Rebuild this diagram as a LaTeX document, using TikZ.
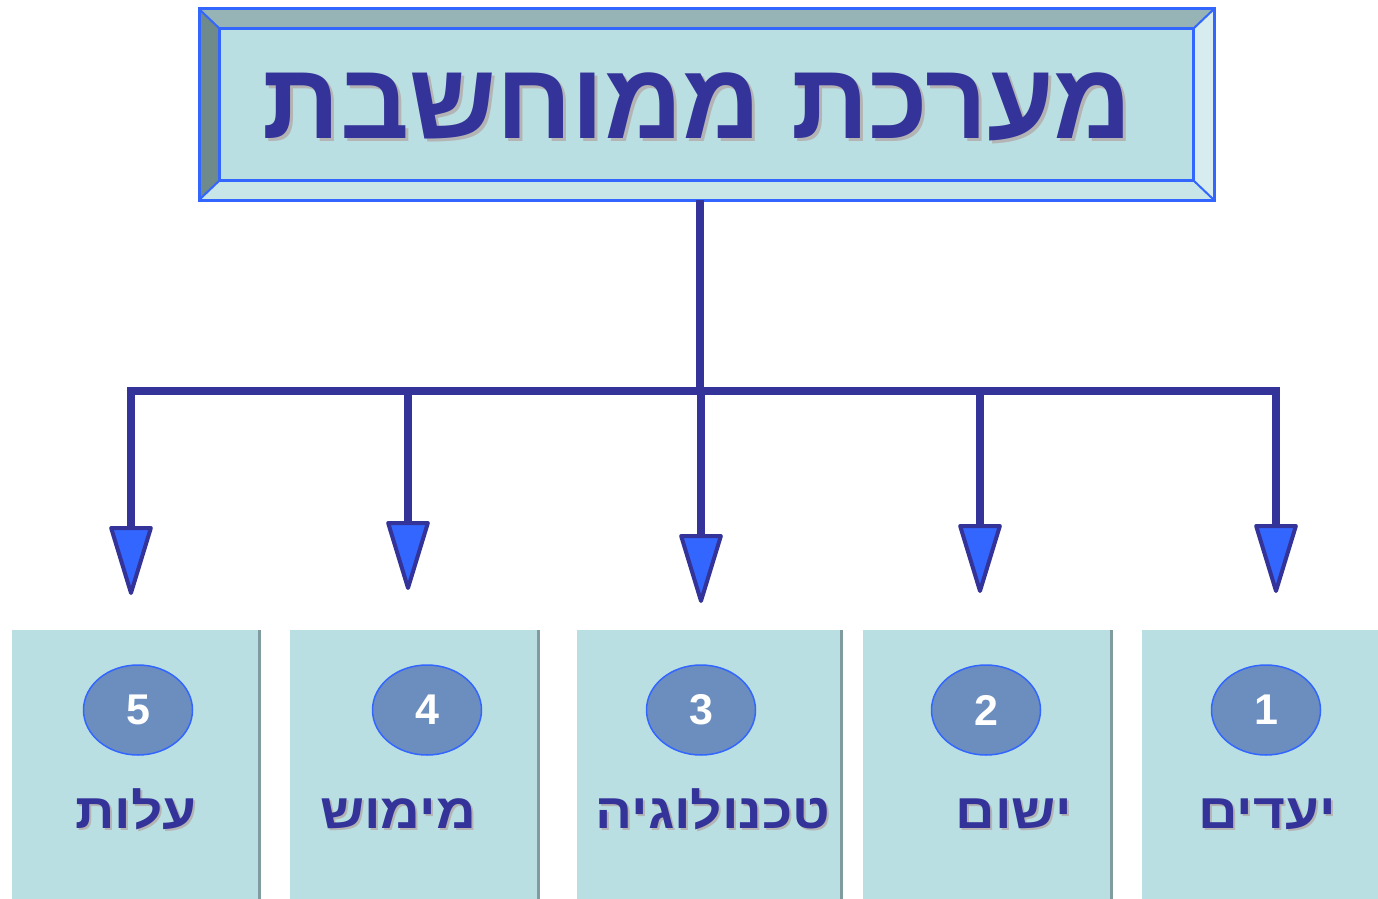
\documentclass[tikz,border=0pt]{standalone}
\usepackage{fontspec}
\usetikzlibrary{arrows.meta,shapes.geometric,shadows}
\TeXXeTstate=1
\newfontfamily\hebfont[Script=Hebrew]{Liberation Sans}
\newfontfamily\hebwide[Script=Hebrew, FakeStretch=1.12]{Liberation Sans}
\newfontfamily\numfont{Liberation Sans}

\definecolor{navy}{HTML}{333399}
\definecolor{edgeblue}{HTML}{3366FF}
\definecolor{face}{HTML}{B9DFE2}
\definecolor{bevtop}{HTML}{96B4B6}
\definecolor{bevleft}{HTML}{6E8A8A}
\definecolor{bevright}{HTML}{D6ECEE}
\definecolor{bevbottom}{HTML}{C8E6E8}
\definecolor{badgefill}{HTML}{6C8EBF}
\definecolor{boxshade}{HTML}{809C9E}
\definecolor{textshade}{HTML}{B4B4B4}

\tikzset{
    bus/.style={draw=navy, line width=8pt},
    drop/.style={bus, -{Triangle[width=44pt, length=74pt, line width=4pt, fill=edgeblue, round]}},
    item/.style={fill=face, minimum height=269pt, inner sep=0pt,
        general shadow={fill=boxshade, shadow xshift=3pt, shadow yshift=0pt}},
    badge/.style={ellipse, draw=edgeblue, line width=1.5pt, fill=badgefill, text=white,
        minimum width=109pt, minimum height=90pt, inner sep=0pt,
        font=\numfont\bfseries\fontsize{43}{43}\selectfont},
    caption/.style={anchor=base, text=navy, inner sep=0pt,
        font=\hebwide\bfseries\fontsize{49}{49}\selectfont},
    headline/.style={anchor=base, text=navy, inner sep=0pt,
        font=\hebfont\bfseries\fontsize{108}{108}\selectfont}
}

\begin{document}
\begin{tikzpicture}[x=1pt, y=-1pt]
    \useasboundingbox (0,0) rectangle (1378,899);

    % Title frame
    \coordinate (fnw) at (199,9);
    \coordinate (fse) at (1214,200);
    \node[fill=face, minimum width=973pt, minimum height=151pt, inner sep=0pt] (title) at (706.5,104.5) {};
    \fill[bevtop] (fnw) -- (fnw -| fse) -- (title.north east) -- (title.north west) -- cycle;
    \fill[bevleft] (fnw) -- (title.north west) -- (title.south west) -- (fse -| fnw) -- cycle;
    \fill[bevright] (fnw -| fse) -- (fse) -- (title.south east) -- (title.north east) -- cycle;
    \fill[bevbottom] (fse -| fnw) -- (title.south west) -- (title.south east) -- (fse) -- cycle;
    \draw[edgeblue, line width=3pt] (fnw) rectangle (fse);
    \draw[edgeblue, line width=3pt] (title.north west) rectangle (title.south east);
    \draw[edgeblue, line width=2pt] (fnw) -- (title.north west)
        (fnw -| fse) -- (title.north east)
        (fse) -- (title.south east)
        (fse -| fnw) -- (title.south west);
    \node[headline, text=textshade] (titleshade) at (700,141) {\beginR מערכת ממוחשבת\endR};
    \node[headline] (titletext) at (697,138) {\beginR מערכת ממוחשבת\endR};

    % Bus
    \coordinate (hub) at (700,391);
    \draw[bus, shorten <=20pt] (title.south -| hub) -- (hub);

    % Items
    \foreach \n/\bx/\bw/\ax/\ty/\cx/\lx/\lab in {
        5/135/246/131/595/138/136/עלות,
        4/413.5/247/408/590/427/398/מימוש,
        3/708.5/263/701/603/701/713/טכנולוגיה,
        2/986.5/247/980/593/986/1014/ישום,
        1/1260/236/1276/593/1266/1267/יעדים} {
        \node[item, minimum width=\bw pt] (box\n) at (\bx,764.5) {};
        \node[badge] (num\n) at (\cx,710) {\n};
        \node[caption, text=textshade] (labshade\n) at (\lx+2,830) {\beginR\lab\endR};
        \node[caption] (lab\n) at (\lx,828) {\beginR\lab\endR};
        \coordinate (top\n) at (\ax,391);
        \coordinate (tip\n) at (\ax,\ty);
        \draw[drop] (top\n) -- (tip\n);
    }
    \draw[bus, line cap=rect] (top5) -- (top1);
\end{tikzpicture}
\end{document}
